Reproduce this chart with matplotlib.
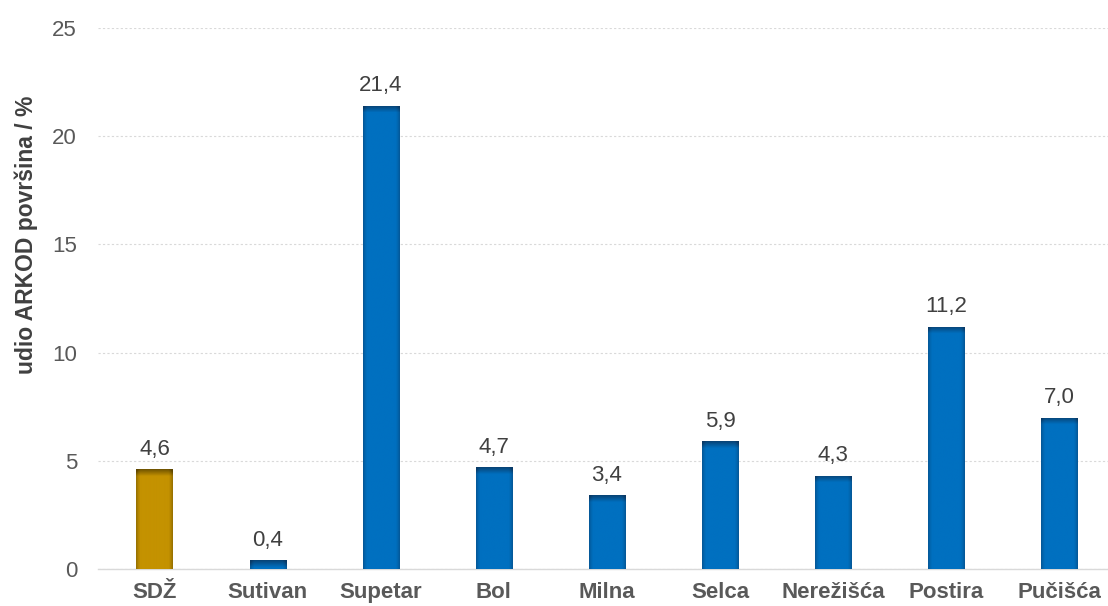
import matplotlib
matplotlib.use("Agg")
import matplotlib.pyplot as plt
import numpy as np
from matplotlib.colors import to_rgb

categories = ["SDŽ", "Sutivan", "Supetar", "Bol", "Milna", "Selca", "Nerežišća", "Postira", "Pučišća"]
values = [4.6, 0.4, 21.4, 4.7, 3.4, 5.9, 4.3, 11.2, 7.0]
labels = ["4,6", "0,4", "21,4", "4,7", "3,4", "5,9", "4,3", "11,2", "7,0"]
yticks = [0, 5, 10, 15, 20, 25]

plt.rcParams['font.family'] = ['Liberation Sans', 'DejaVu Sans']

fig = plt.figure(figsize=(11.08, 6.06), dpi=100)
ax = fig.add_axes([0.0884, 0.061, 0.9116, 0.893])

x = np.arange(len(categories))
width = 0.32
face = ["#C49200"] + ["#0070C0"] * (len(categories) - 1)
dark = ["#5E4600"] + ["#0A3A66"] * (len(categories) - 1)

bars = ax.bar(x, values, width=width, color=face, linewidth=0, zorder=3)

# gradient shading clipped to each bar
for b, fc, dc in zip(bars, face, dark):
    fc = np.array(to_rgb(fc)); dc = np.array(to_rgb(dc))
    x0, w = b.get_x(), b.get_width()
    h = b.get_height()
    nx, ny = 60, 400
    u = np.linspace(0, 1, nx)
    side = np.clip(1 - np.minimum(u, 1 - u) / 0.12, 0, 1) ** 1.5 * 0.45
    yy = np.linspace(h, 0, ny)  # top row first
    dist_px = (h - yy) * 21.64
    top = np.clip(1 - dist_px / 7.0, 0, 1) * 0.85
    t = np.clip(side[None, :] + top[:, None], 0, 1)
    img = fc[None, None, :] * (1 - t[..., None]) + dc[None, None, :] * t[..., None]
    im = ax.imshow(img, extent=(x0, x0 + w, 0, h), aspect="auto", zorder=4, interpolation="bilinear")
    im.set_clip_path(b)

for xi, v, lab in zip(x, values, labels):
    ax.annotate(lab, (xi, v), xytext=(0, 7), textcoords="offset points",
                ha="center", va="bottom", fontsize=16, color="#404040")

ax.set_xlim(-0.5, 8.43)
ax.set_ylim(0, 25)
ax.set_yticks(yticks)
ax.set_yticklabels([str(t) for t in yticks], fontsize=16, color="#595959")
ax.set_xticks(x)
ax.set_xticklabels(categories, fontsize=16, color="#595959", fontweight="bold")
ax.tick_params(axis="y", length=0, pad=15)
ax.tick_params(axis="x", length=0, pad=9)
ax.yaxis.grid(True, color="#D9D9D9", linestyle=(0, (2, 2)), linewidth=0.8, zorder=0)
for s in ["top", "right", "left"]:
    ax.spines[s].set_visible(False)
ax.spines["bottom"].set_color("#D9D9D9")
ax.spines["bottom"].set_linewidth(1.0)
ax.set_ylabel("udio ARKOD površina / %", fontsize=16.5, fontweight="bold", color="#404040")
ax.yaxis.set_label_coords(-0.059, 0.617)

fig.savefig("out.png", dpi=100)
